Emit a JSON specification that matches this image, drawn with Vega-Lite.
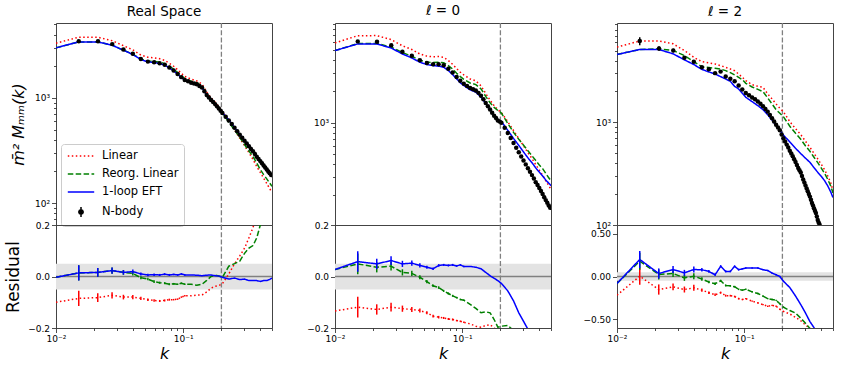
{
"$schema": "https://vega.github.io/schema/vega-lite/v6.json",
"autosize": {"type": "pad"},
"padding": {"left": 4, "top": 3, "right": 5, "bottom": 5},
"config": {
  "font": "DejaVu Sans",
  "view": {"stroke": "#444444", "strokeWidth": 1},
  "axis": {"domain": false, "grid": false, "tickColor": "#222222", "tickWidth": 0.8, "labelColor": "#000000", "labelFontSize": 9, "labelPadding": 2, "titleFontWeight": "normal", "titleColor": "#000000", "labelFlush": false, "labelOverlap": false},
  "title": {"fontSize": 13.5, "fontWeight": "normal", "color": "#000000", "offset": 2, "frame": "group"}
},
"datasets": {
"lines": [
{"p":1,"k":0.01,"L":3317,"R":2994,"E":2994,"rL":-0.1,"rR":-0.003,"rE":-0.003},
{"p":1,"k":0.0151,"L":3783,"R":3413,"E":3413,"rL":-0.085,"rR":0.014,"rE":0.014,"e":0.03},
{"p":1,"k":0.0213,"L":3778,"R":3413,"E":3413,"rL":-0.082,"rR":0.016,"rE":0.016,"e":0.017},
{"p":1,"k":0.0276,"L":3506,"R":3177,"E":3177,"rL":-0.073,"rR":0.023,"rE":0.023,"e":0.012},
{"p":1,"k":0.0339,"L":3143,"R":2846,"E":2846,"rL":-0.08,"rR":0.016,"rE":0.016,"e":0.009},
{"p":1,"k":0.0402,"L":2866,"R":2606,"E":2588,"rL":-0.08,"rR":0.012,"rE":0.019,"e":0.008},
{"p":1,"k":0.0465,"L":2558,"R":2353,"E":2318,"rL":-0.085,"rR":-0.005,"rE":0.01,"e":0.006},
{"p":1,"k":0.0528,"L":2435,"R":2238,"E":2203,"rL":-0.09,"rR":-0.01,"rE":0.006,"e":0.005},
{"p":1,"k":0.0591,"L":2411,"R":2232,"E":2172,"rL":-0.093,"rR":-0.02,"rE":0.007,"e":0.005},
{"p":1,"k":0.0654,"L":2360,"R":2189,"E":2123,"rL":-0.095,"rR":-0.024,"rE":0.006,"e":0.004},
{"p":1,"k":0.0716,"L":2278,"R":2121,"E":2048,"rL":-0.093,"rR":-0.026,"rE":0.009,"e":0.004},
{"p":1,"k":0.0779,"L":2136,"R":2004,"E":1932,"rL":-0.09,"rR":-0.03,"rE":0.006,"e":0.004},
{"p":1,"k":0.0842,"L":2003,"R":1876,"E":1809,"rL":-0.09,"rR":-0.028,"rE":0.008,"e":0.003},
{"p":1,"k":0.0905,"L":1854,"R":1743,"E":1681,"rL":-0.088,"rR":-0.03,"rE":0.006,"e":0.003},
{"p":1,"k":0.0968,"L":1715,"R":1620,"E":1562,"rL":-0.08,"rR":-0.026,"rE":0.01,"e":0.003},
{"p":1,"k":0.1031,"L":1602,"R":1528,"E":1473,"rL":-0.075,"rR":-0.03,"rE":0.006,"e":0.003},
{"p":1,"k":0.1156,"L":1511,"R":1441,"E":1390,"rL":-0.075,"rR":-0.03,"rE":0.006},
{"p":1,"k":0.1282,"L":1452,"R":1394,"E":1340,"rL":-0.072,"rR":-0.034,"rE":0.005},
{"p":1,"k":0.1408,"L":1356,"R":1297,"E":1254,"rL":-0.072,"rR":-0.03,"rE":0.003},
{"p":1,"k":0.1533,"L":1133,"R":1081,"E":1060,"rL":-0.06,"rR":-0.015,"rE":0.005},
{"p":1,"k":0.1659,"L":1001,"R":956,"E":950,"rL":-0.045,"rR":0.0,"rE":0.006},
{"p":1,"k":0.1785,"L":909,"R":870,"E":871,"rL":-0.038,"rR":0.005,"rE":0.003},
{"p":1,"k":0.191,"L":822,"R":791,"E":791,"rL":-0.035,"rR":0.002,"rE":0.002},
{"p":1,"k":0.2036,"L":741,"R":722,"E":722,"rL":-0.028,"rR":-0.003,"rE":-0.003},
{"p":1,"k":0.2287,"L":606,"R":588,"E":618,"rL":0.01,"rR":0.04,"rE":-0.01},
{"p":1,"k":0.2538,"L":496,"R":496,"E":524,"rL":0.05,"rR":0.05,"rE":-0.006},
{"p":1,"k":0.2789,"L":414,"R":422,"E":452,"rL":0.08,"rR":0.06,"rE":-0.012},
{"p":1,"k":0.3041,"L":353,"R":360,"E":396,"rL":0.11,"rR":0.09,"rE":-0.01},
{"p":1,"k":0.3292,"L":302,"R":313,"E":353,"rL":0.15,"rR":0.11,"rE":-0.016},
{"p":1,"k":0.3543,"L":261,"R":278,"E":316,"rL":0.19,"rR":0.12,"rE":-0.016},
{"p":1,"k":0.3794,"L":223,"R":240,"E":281,"rL":0.24,"rR":0.15,"rE":-0.016},
{"p":1,"k":0.4045,"L":196,"R":209,"E":256,"rL":0.28,"rR":0.2,"rE":-0.019},
{"p":1,"k":0.4297,"L":173,"R":187,"E":232,"rL":0.32,"rR":0.22,"rE":-0.016},
{"p":1,"k":0.4548,"L":154,"R":170,"E":212,"rL":0.36,"rR":0.23,"rE":-0.016},
{"p":1,"k":0.4799,"L":137,"R":155,"E":194,"rL":0.4,"rR":0.24,"rE":-0.011},
{"p":1,"k":0.5,"L":127,"R":145,"E":182,"rL":0.42,"rR":0.245,"rE":-0.006},
{"p":2,"k":0.01,"L":5889,"R":4966,"E":4966,"rL":-0.134,"rR":0.027,"rE":0.027},
{"p":2,"k":0.0151,"L":6910,"R":5804,"E":5754,"rL":-0.119,"rR":0.049,"rE":0.058,"e":0.04},
{"p":2,"k":0.0213,"L":6922,"R":5826,"E":5754,"rL":-0.128,"rR":0.036,"rE":0.049,"e":0.02},
{"p":2,"k":0.0276,"L":6342,"R":5372,"E":5261,"rL":-0.119,"rR":0.04,"rE":0.062,"e":0.017},
{"p":2,"k":0.0339,"L":5520,"R":4754,"E":4604,"rL":-0.125,"rR":0.016,"rE":0.049,"e":0.012},
{"p":2,"k":0.0402,"L":5084,"R":4380,"E":4214,"rL":-0.128,"rR":0.012,"rE":0.052,"e":0.01},
{"p":2,"k":0.0465,"L":4601,"R":4006,"E":3829,"rL":-0.132,"rR":-0.003,"rE":0.043,"e":0.008},
{"p":2,"k":0.0528,"L":4388,"R":3846,"E":3638,"rL":-0.141,"rR":-0.02,"rE":0.036,"e":0.006},
{"p":2,"k":0.0591,"L":4330,"R":3800,"E":3556,"rL":-0.154,"rR":-0.036,"rE":0.03,"e":0.005},
{"p":2,"k":0.0654,"L":4346,"R":3823,"E":3508,"rL":-0.158,"rR":-0.043,"rE":0.043,"e":0.005},
{"p":2,"k":0.0716,"L":4272,"R":3797,"E":3430,"rL":-0.161,"rR":-0.056,"rE":0.045,"e":0.004},
{"p":2,"k":0.0779,"L":3980,"R":3558,"E":3186,"rL":-0.165,"rR":-0.066,"rE":0.043,"e":0.004},
{"p":2,"k":0.0842,"L":3657,"R":3293,"E":2915,"rL":-0.167,"rR":-0.075,"rE":0.045,"e":0.004},
{"p":2,"k":0.0905,"L":3327,"R":3004,"E":2649,"rL":-0.171,"rR":-0.082,"rE":0.041,"e":0.003},
{"p":2,"k":0.0968,"L":3068,"R":2782,"E":2425,"rL":-0.174,"rR":-0.089,"rE":0.045,"e":0.003},
{"p":2,"k":0.1031,"L":2891,"R":2617,"E":2287,"rL":-0.178,"rR":-0.092,"rE":0.039,"e":0.003},
{"p":2,"k":0.1156,"L":2643,"R":2418,"E":2076,"rL":-0.184,"rR":-0.108,"rE":0.039},
{"p":2,"k":0.1282,"L":2532,"R":2332,"E":1972,"rL":-0.193,"rR":-0.124,"rE":0.036},
{"p":2,"k":0.1408,"L":2265,"R":2118,"E":1766,"rL":-0.197,"rR":-0.141,"rE":0.03},
{"p":2,"k":0.1533,"L":1911,"R":1794,"E":1524,"rL":-0.19,"rR":-0.137,"rE":0.016},
{"p":2,"k":0.1659,"L":1646,"R":1558,"E":1334,"rL":-0.187,"rR":-0.141,"rE":0.003},
{"p":2,"k":0.1785,"L":1461,"R":1403,"E":1177,"rL":-0.2,"rR":-0.167,"rE":-0.007},
{"p":2,"k":0.191,"L":1332,"R":1310,"E":1069,"rL":-0.21,"rR":-0.197,"rE":-0.016},
{"p":2,"k":0.2036,"L":1250,"R":1239,"E":1028,"rL":-0.215,"rR":-0.193,"rE":-0.027},
{"p":2,"k":0.2287,"L":1021,"R":983,"E":843,"rL":-0.22,"rR":-0.19,"rE":-0.056},
{"p":2,"k":0.2538,"L":838,"R":806,"E":704,"rL":-0.24,"rR":-0.21,"rE":-0.095},
{"p":2,"k":0.2789,"L":701,"R":692,"E":604,"rL":-0.26,"rR":-0.25,"rE":-0.141},
{"p":2,"k":0.3041,"L":599,"R":607,"E":522,"rL":-0.28,"rR":-0.29,"rE":-0.174},
{"p":2,"k":0.3292,"L":513,"R":535,"E":458,"rL":-0.29,"rR":-0.32,"rE":-0.205},
{"p":2,"k":0.3543,"L":452,"R":480,"E":411,"rL":-0.31,"rR":-0.35,"rE":-0.24},
{"p":2,"k":0.3794,"L":393,"R":431,"E":366,"rL":-0.32,"rR":-0.38,"rE":-0.27},
{"p":2,"k":0.4045,"L":349,"R":390,"E":334,"rL":-0.33,"rR":-0.4,"rE":-0.3},
{"p":2,"k":0.4297,"L":311,"R":360,"E":306,"rL":-0.34,"rR":-0.43,"rE":-0.33},
{"p":2,"k":0.4548,"L":275,"R":325,"E":280,"rL":-0.35,"rR":-0.45,"rE":-0.36},
{"p":2,"k":0.4799,"L":247,"R":294,"E":261,"rL":-0.355,"rR":-0.46,"rE":-0.39},
{"p":2,"k":0.5,"L":228,"R":275,"E":247,"rL":-0.36,"rR":-0.47,"rE":-0.41},
{"p":3,"k":0.01,"L":5408,"R":4581,"E":4581,"rL":-0.22,"rR":-0.082,"rE":-0.082},
{"p":3,"k":0.0151,"L":6200,"R":5129,"E":5129,"rL":0.004,"rR":0.18,"rE":0.2,"e":0.1},
{"p":3,"k":0.0213,"L":6200,"R":5207,"E":5129,"rL":-0.153,"rR":0.024,"rE":0.035,"e":0.06},
{"p":3,"k":0.0276,"L":5825,"R":5013,"E":4656,"rL":-0.122,"rR":0.035,"rE":0.082,"e":0.04},
{"p":3,"k":0.0339,"L":5013,"R":4477,"E":4065,"rL":-0.153,"rR":-0.016,"rE":0.043,"e":0.035},
{"p":3,"k":0.0402,"L":4300,"R":3900,"E":3661,"rL":-0.133,"rR":0.004,"rE":0.082,"e":0.035},
{"p":3,"k":0.0465,"L":3900,"R":3480,"E":3280,"rL":-0.16,"rR":-0.03,"rE":0.079,"e":0.02},
{"p":3,"k":0.0528,"L":3800,"R":3420,"E":3100,"rL":-0.19,"rR":-0.065,"rE":0.06,"e":0.015},
{"p":3,"k":0.0591,"L":3707,"R":3370,"E":2958,"rL":-0.215,"rR":-0.085,"rE":0.02,"e":0.015},
{"p":3,"k":0.0654,"L":3568,"R":3300,"E":2787,"rL":-0.19,"rR":-0.05,"rE":0.12,"e":0.012},
{"p":3,"k":0.0716,"L":3436,"R":3190,"E":2644,"rL":-0.225,"rR":-0.105,"rE":0.06,"e":0.012},
{"p":3,"k":0.0779,"L":3311,"R":3050,"E":2510,"rL":-0.225,"rR":-0.11,"rE":0.06,"e":0.01},
{"p":3,"k":0.0842,"L":3184,"R":2894,"E":2244,"rL":-0.235,"rR":-0.12,"rE":0.12,"e":0.01},
{"p":3,"k":0.0905,"L":2958,"R":2746,"E":2114,"rL":-0.26,"rR":-0.15,"rE":0.08,"e":0.01},
{"p":3,"k":0.0968,"L":2746,"R":2608,"E":1918,"rL":-0.27,"rR":-0.16,"rE":0.09,"e":0.008},
{"p":3,"k":0.1031,"L":2548,"R":2401,"E":1754,"rL":-0.26,"rR":-0.15,"rE":0.1,"e":0.008},
{"p":3,"k":0.1156,"L":2329,"R":2210,"E":1591,"rL":-0.29,"rR":-0.18,"rE":0.1,"e":0.008},
{"p":3,"k":0.1282,"L":2244,"R":2098,"E":1455,"rL":-0.31,"rR":-0.2,"rE":0.1,"e":0.008},
{"p":3,"k":0.1408,"L":2193,"R":1991,"E":1330,"rL":-0.33,"rR":-0.23,"rE":0.08,"e":0.008},
{"p":3,"k":0.1533,"L":1889,"R":1727,"E":1189,"rL":-0.35,"rR":-0.26,"rE":0.07,"e":0.008},
{"p":3,"k":0.1659,"L":1690,"R":1509,"E":1055,"rL":-0.34,"rR":-0.27,"rE":0.04,"e":0.008},
{"p":3,"k":0.1785,"L":1509,"R":1330,"E":929,"rL":-0.35,"rR":-0.28,"rE":0.02,"e":0.008},
{"p":3,"k":0.191,"L":1370,"R":1225,"E":836,"rL":-0.385,"rR":-0.32,"rE":0.0,"e":0.008},
{"p":3,"k":0.2036,"L":1271,"R":1136,"E":753,"rL":-0.41,"rR":-0.36,"rE":-0.055,"e":0.008},
{"p":3,"k":0.2287,"L":1016,"R":916,"E":644,"rL":-0.44,"rR":-0.4,"rE":-0.13},
{"p":3,"k":0.2538,"L":868,"R":782,"E":559,"rL":-0.48,"rR":-0.43,"rE":-0.23},
{"p":3,"k":0.2789,"L":759,"R":684,"E":496,"rL":-0.52,"rR":-0.49,"rE":-0.33},
{"p":3,"k":0.3041,"L":653,"R":589,"E":447,"rL":-0.57,"rR":-0.55,"rE":-0.43},
{"p":3,"k":0.3292,"L":571,"R":523,"E":408,"rL":-0.61,"rR":-0.61,"rE":-0.53},
{"p":3,"k":0.3543,"L":499,"R":457,"E":362,"rL":-0.66,"rR":-0.66,"rE":-0.6},
{"p":3,"k":0.3794,"L":440,"R":405,"E":326,"rL":-0.7,"rR":-0.72,"rE":-0.68},
{"p":3,"k":0.4045,"L":390,"R":358,"E":298,"rL":-0.76,"rR":-0.77,"rE":-0.74},
{"p":3,"k":0.4297,"L":345,"R":318,"E":270,"rL":-0.81,"rR":-0.82,"rE":-0.8},
{"p":3,"k":0.4548,"L":300,"R":278,"E":240,"rL":-0.85,"rR":-0.86,"rE":-0.85},
{"p":3,"k":0.4799,"L":258,"R":240,"E":210,"rL":-0.89,"rR":-0.9,"rE":-0.9},
{"p":3,"k":0.5,"L":215,"R":205,"E":185,"rL":-0.92,"rR":-0.93,"rE":-0.93}
],
"nbody": [
{"p":1,"k":0.0151,"N":3461},{"p":1,"k":0.0214,"N":3468},{"p":1,"k":0.0277,"N":3250},{"p":1,"k":0.0339,"N":2892},{"p":1,"k":0.0402,"N":2637},{"p":1,"k":0.0465,"N":2341},{"p":1,"k":0.0528,"N":2216},{"p":1,"k":0.0591,"N":2187},{"p":1,"k":0.0653,"N":2136},{"p":1,"k":0.0716,"N":2066},{"p":1,"k":0.0779,"N":1944},{"p":1,"k":0.0842,"N":1823},{"p":1,"k":0.0905,"N":1691},{"p":1,"k":0.0967,"N":1578},{"p":1,"k":0.103,"N":1482},{"p":1,"k":0.1093,"N":1439},{"p":1,"k":0.1156,"N":1398},{"p":1,"k":0.1219,"N":1372},{"p":1,"k":0.1281,"N":1347},{"p":1,"k":0.1344,"N":1300},{"p":1,"k":0.1407,"N":1258},{"p":1,"k":0.147,"N":1160},{"p":1,"k":0.1533,"N":1065},{"p":1,"k":0.1595,"N":1008},{"p":1,"k":0.1658,"N":956},{"p":1,"k":0.1721,"N":914},{"p":1,"k":0.1784,"N":874},{"p":1,"k":0.1847,"N":832},{"p":1,"k":0.1909,"N":793},{"p":1,"k":0.1972,"N":755},{"p":1,"k":0.2035,"N":720},{"p":1,"k":0.2161,"N":664},{"p":1,"k":0.2286,"N":612},{"p":1,"k":0.2412,"N":565},{"p":1,"k":0.2537,"N":521},{"p":1,"k":0.2663,"N":483},{"p":1,"k":0.2789,"N":447},{"p":1,"k":0.2914,"N":418},{"p":1,"k":0.304,"N":392},{"p":1,"k":0.3165,"N":369},{"p":1,"k":0.3291,"N":347},{"p":1,"k":0.3417,"N":328},{"p":1,"k":0.3542,"N":311},{"p":1,"k":0.3668,"N":293},{"p":1,"k":0.3793,"N":276},{"p":1,"k":0.3919,"N":263},{"p":1,"k":0.4045,"N":251},{"p":1,"k":0.417,"N":239},{"p":1,"k":0.4296,"N":228},{"p":1,"k":0.4421,"N":218},{"p":1,"k":0.4547,"N":209},{"p":1,"k":0.4673,"N":200},{"p":1,"k":0.4798,"N":192},{"p":1,"k":0.4924,"N":185},
{"p":2,"k":0.0151,"N":6088},{"p":2,"k":0.0214,"N":6036},{"p":2,"k":0.0277,"N":5587},{"p":2,"k":0.0339,"N":4830},{"p":2,"k":0.0402,"N":4433},{"p":2,"k":0.0465,"N":3994},{"p":2,"k":0.0528,"N":3769},{"p":2,"k":0.0591,"N":3663},{"p":2,"k":0.0653,"N":3659},{"p":2,"k":0.0716,"N":3584},{"p":2,"k":0.0779,"N":3323},{"p":2,"k":0.0842,"N":3046},{"p":2,"k":0.0905,"N":2758},{"p":2,"k":0.0967,"N":2534},{"p":2,"k":0.103,"N":2376},{"p":2,"k":0.1093,"N":2260},{"p":2,"k":0.1156,"N":2157},{"p":2,"k":0.1219,"N":2100},{"p":2,"k":0.1281,"N":2043},{"p":2,"k":0.1344,"N":1940},{"p":2,"k":0.1407,"N":1819},{"p":2,"k":0.147,"N":1680},{"p":2,"k":0.1533,"N":1548},{"p":2,"k":0.1595,"N":1440},{"p":2,"k":0.1658,"N":1338},{"p":2,"k":0.1721,"N":1250},{"p":2,"k":0.1784,"N":1169},{"p":2,"k":0.1847,"N":1110},{"p":2,"k":0.1909,"N":1052},{"p":2,"k":0.1972,"N":1024},{"p":2,"k":0.2035,"N":1000},{"p":2,"k":0.2161,"N":895},{"p":2,"k":0.2286,"N":796},{"p":2,"k":0.2412,"N":712},{"p":2,"k":0.2537,"N":637},{"p":2,"k":0.2663,"N":574},{"p":2,"k":0.2789,"N":519},{"p":2,"k":0.2914,"N":472},{"p":2,"k":0.304,"N":431},{"p":2,"k":0.3165,"N":396},{"p":2,"k":0.3291,"N":364},{"p":2,"k":0.3417,"N":337},{"p":2,"k":0.3542,"N":312},{"p":2,"k":0.3668,"N":289},{"p":2,"k":0.3793,"N":267},{"p":2,"k":0.3919,"N":250},{"p":2,"k":0.4045,"N":234},{"p":2,"k":0.417,"N":219},{"p":2,"k":0.4296,"N":205},{"p":2,"k":0.4421,"N":191},{"p":2,"k":0.4547,"N":179},{"p":2,"k":0.4673,"N":169},{"p":2,"k":0.4798,"N":159},{"p":2,"k":0.4924,"N":151},
{"p":3,"k":0.0151,"N":6194,"Ne":560},{"p":3,"k":0.0214,"N":5250,"Ne":260},{"p":3,"k":0.0277,"N":5012,"Ne":200},{"p":3,"k":0.0339,"N":4255,"Ne":150},{"p":3,"k":0.0402,"N":3900,"Ne":120},{"p":3,"k":0.0465,"N":3440},{"p":3,"k":0.0528,"N":3286},{"p":3,"k":0.0591,"N":3017},{"p":3,"k":0.0653,"N":3121},{"p":3,"k":0.0716,"N":2803},{"p":3,"k":0.0779,"N":2661},{"p":3,"k":0.0842,"N":2513},{"p":3,"k":0.0905,"N":2283},{"p":3,"k":0.0967,"N":2091},{"p":3,"k":0.103,"N":1929},{"p":3,"k":0.1093,"N":1840},{"p":3,"k":0.1156,"N":1750},{"p":3,"k":0.1219,"N":1680},{"p":3,"k":0.1281,"N":1600},{"p":3,"k":0.1344,"N":1520},{"p":3,"k":0.1407,"N":1436},{"p":3,"k":0.147,"N":1350},{"p":3,"k":0.1533,"N":1272},{"p":3,"k":0.1595,"N":1180},{"p":3,"k":0.1658,"N":1097},{"p":3,"k":0.1721,"N":1020},{"p":3,"k":0.1784,"N":948},{"p":3,"k":0.1847,"N":890},{"p":3,"k":0.1909,"N":836},{"p":3,"k":0.1972,"N":760},{"p":3,"k":0.2035,"N":700},{"p":3,"k":0.2098,"N":650},{"p":3,"k":0.2161,"N":607},{"p":3,"k":0.2223,"N":568},{"p":3,"k":0.2286,"N":530},{"p":3,"k":0.2349,"N":498},{"p":3,"k":0.2412,"N":467},{"p":3,"k":0.2475,"N":438},{"p":3,"k":0.2537,"N":411},{"p":3,"k":0.26,"N":385},{"p":3,"k":0.2663,"N":360},{"p":3,"k":0.2726,"N":342},{"p":3,"k":0.2789,"N":324},{"p":3,"k":0.2851,"N":300},{"p":3,"k":0.2914,"N":277},{"p":3,"k":0.2977,"N":259},{"p":3,"k":0.304,"N":242},{"p":3,"k":0.3103,"N":227},{"p":3,"k":0.3165,"N":213},{"p":3,"k":0.3228,"N":200},{"p":3,"k":0.3291,"N":189},{"p":3,"k":0.3354,"N":176},{"p":3,"k":0.3417,"N":164},{"p":3,"k":0.3479,"N":155},{"p":3,"k":0.3542,"N":146},{"p":3,"k":0.3605,"N":138},{"p":3,"k":0.3668,"N":131},{"p":3,"k":0.3731,"N":121},{"p":3,"k":0.3793,"N":112},{"p":3,"k":0.3856,"N":106},{"p":3,"k":0.3919,"N":101}
]
},
"spacing": 32,
"resolve": {"scale": {"color": "independent", "strokeDash": "independent"}},
"hconcat": [
{
 "spacing": 0, "bounds": "flush",
 "resolve": {"scale": {"color": "independent", "strokeDash": "independent"}},
 "vconcat": [
 {
  "width": 216, "height": 202,
  "title": {"text": "Real Space"},
  "layer": [
   {"data": {"values": [{}]}, "mark": {"type": "rule", "color": "#808080", "strokeWidth": 1.3, "strokeDash": [5, 2.2]},
    "encoding": {"x": {"datum": 0.2, "type": "quantitative", "scale": {"type": "log", "domain": [0.01, 0.5], "nice": false}, "axis": null}}},
   {"data": {"name": "lines"},
    "transform": [{"filter": "datum.p == 1"}, {"fold": ["L", "R", "E"], "as": ["m", "v"]}],
    "mark": {"type": "line", "strokeWidth": 1.5, "clip": true},
    "encoding": {
     "x": {"field": "k", "type": "quantitative", "scale": {"type": "log", "domain": [0.01, 0.5], "nice": false}, "axis": null},
     "y": {"field": "v", "type": "quantitative", "scale": {"type": "log", "domain": [62, 5160], "nice": false},
      "axis": {"values": [70,80,90,100,200,300,400,500,600,700,800,900,1000,2000,3000,4000,5000], "labelExpr": "datum.value == 100 ? '10²' : datum.value == 1000 ? '10³' : ''", "tickSize": {"condition": {"test": "datum.value == 100 || datum.value == 1000", "value": 4.5}, "value": 2.5}, "title": "m̄² Mₘₘ(k)", "titleFontSize": 16, "titleFontStyle": "italic", "titlePadding": 8}},
     "color": {"field": "m", "type": "nominal", "scale": {"domain": ["L", "R", "E", "N"], "range": ["#ff0000", "#008000", "#0000ff", "#000000"]},
      "legend": {"orient": "none", "legendX": 5, "legendY": 121, "title": null, "labelExpr": "datum.label == 'L' ? 'Linear' : datum.label == 'R' ? 'Reorg. Linear' : datum.label == 'E' ? '1-loop EFT' : 'N-body'", "symbolSize": 144, "symbolStrokeWidth": 1.5, "symbolOffset": 8, "labelFontSize": 11.5, "labelOffset": 14, "rowPadding": 5, "padding": 5, "fillColor": "#ffffff", "strokeColor": "#cccccc", "cornerRadius": 3,
       "encode": {"symbols": {"update": {"shape": {"signal": "datum.value === 'N' ? 'M0,-0.85L0,0.85M0.37,0L0.26,0.26L0,0.37L-0.26,0.26L-0.37,0L-0.26,-0.26L0,-0.37L0.26,-0.26Z' : 'M-2.2,0L2.2,0'"}, "fill": {"signal": "datum.value === 'N' ? '#000000' : 'transparent'"}}}}}},
     "strokeDash": {"field": "m", "type": "nominal", "scale": {"domain": ["L", "R", "E", "N"], "range": [[1.5, 2.5], [5.5, 2.4], [1, 0], [1, 0]]},
      "legend": {"orient": "none", "legendX": 5, "legendY": 121, "title": null, "labelExpr": "datum.label == 'L' ? 'Linear' : datum.label == 'R' ? 'Reorg. Linear' : datum.label == 'E' ? '1-loop EFT' : 'N-body'", "symbolSize": 144, "symbolStrokeWidth": 1.5, "symbolOffset": 8, "labelFontSize": 11.5, "labelOffset": 14, "rowPadding": 5, "padding": 5, "fillColor": "#ffffff", "strokeColor": "#cccccc", "cornerRadius": 3,
       "encode": {"symbols": {"update": {"shape": {"signal": "datum.value === 'N' ? 'M0,-0.85L0,0.85M0.37,0L0.26,0.26L0,0.37L-0.26,0.26L-0.37,0L-0.26,-0.26L0,-0.37L0.26,-0.26Z' : 'M-2.2,0L2.2,0'"}, "fill": {"signal": "datum.value === 'N' ? '#000000' : 'transparent'"}}}}}}
    }},
   {"data": {"name": "nbody"}, "transform": [{"filter": "datum.p == 1"}],
    "mark": {"type": "point", "filled": true, "size": 20, "color": "#000000", "opacity": 1, "clip": true},
    "encoding": {"x": {"field": "k", "type": "quantitative", "axis": null}, "y": {"field": "N", "type": "quantitative"}}}
  ]
 },
 {
  "width": 216, "height": 103,
  "layer": [
   {"data": {"values": [{}]}, "mark": {"type": "rect", "color": "#e3e3e3"},
    "encoding": {"x": {"datum": 0.01, "type": "quantitative"}, "x2": {"datum": 0.5}, "y": {"datum": -0.05, "type": "quantitative"}, "y2": {"datum": 0.05}}},
   {"data": {"values": [{}]}, "mark": {"type": "rule", "color": "#808080", "strokeWidth": 1.5},
    "encoding": {"y": {"datum": 0, "type": "quantitative"}}},
   {"data": {"values": [{}]}, "mark": {"type": "rule", "color": "#808080", "strokeWidth": 1.3, "strokeDash": [5, 2.2]},
    "encoding": {"x": {"datum": 0.2, "type": "quantitative"}}},
   {"data": {"name": "lines"},
    "transform": [{"filter": "datum.p == 1"}, {"fold": ["rL", "rR", "rE"], "as": ["m", "v"]}],
    "mark": {"type": "line", "strokeWidth": 1.5, "clip": true},
    "encoding": {
     "x": {"field": "k", "type": "quantitative", "scale": {"type": "log", "domain": [0.01, 0.5], "nice": false},
      "axis": {"values": [0.01,0.02,0.03,0.04,0.05,0.06,0.07,0.08,0.09,0.1,0.2,0.3,0.4,0.5], "labelExpr": "datum.value == 0.01 ? '10⁻²' : datum.value == 0.1 ? '10⁻¹' : ''", "tickSize": {"condition": {"test": "datum.value == 0.01 || datum.value == 0.1", "value": 4.5}, "value": 2.5}, "title": "k", "titleFontStyle": "italic", "titleFontSize": 16, "titlePadding": 2}},
     "y": {"field": "v", "type": "quantitative", "title": "Residual", "scale": {"domain": [-0.2, 0.2], "nice": false, "zero": false},
      "axis": {"values": [-0.2, -0.1, 0, 0.1, 0.2], "format": ".1f", "tickSize": 4.5, "title": "Residual", "titleFontSize": 17, "titlePadding": 5}},
     "color": {"field": "m", "type": "nominal", "scale": {"domain": ["rL", "rR", "rE"], "range": ["#ff0000", "#008000", "#0000ff"]}, "legend": null},
     "strokeDash": {"field": "m", "type": "nominal", "scale": {"domain": ["rL", "rR", "rE"], "range": [[1.5, 2.5], [5.5, 2.4], [1, 0]]}, "legend": null}
    }},
   {"data": {"name": "lines"},
    "transform": [{"filter": "datum.p == 1 && isValid(datum.e)"}, {"fold": ["rL", "rR", "rE"], "as": ["m", "v"]}],
    "mark": {"type": "errorbar", "thickness": 1.5},
    "encoding": {"x": {"field": "k", "type": "quantitative", "title": "k"}, "y": {"field": "v", "type": "quantitative", "title": "Residual"}, "yError": {"field": "e"},
     "color": {"field": "m", "type": "nominal", "legend": null}}}
  ]
 }
 ]
},
{
 "spacing": 29,
 "resolve": {"scale": {"color": "independent", "strokeDash": "independent"}},
 "hconcat": [
 {
 "spacing": 0, "bounds": "flush",
 "resolve": {"scale": {"color": "independent", "strokeDash": "independent"}},
 "vconcat": [
 {
  "width": 216, "height": 202,
  "title": {"text": "ℓ = 0"},
  "layer": [
   {"data": {"values": [{}]}, "mark": {"type": "rule", "color": "#808080", "strokeWidth": 1.3, "strokeDash": [5, 2.2]},
    "encoding": {"x": {"datum": 0.2, "type": "quantitative", "scale": {"type": "log", "domain": [0.01, 0.5], "nice": false}, "axis": null}}},
   {"data": {"name": "lines"},
    "transform": [{"filter": "datum.p == 2"}, {"fold": ["L", "R", "E"], "as": ["m", "v"]}],
    "mark": {"type": "line", "strokeWidth": 1.5, "clip": true},
    "encoding": {
     "x": {"field": "k", "type": "quantitative", "scale": {"type": "log", "domain": [0.01, 0.5], "nice": false}, "axis": null},
     "y": {"field": "v", "type": "quantitative", "scale": {"type": "log", "domain": [103, 9160], "nice": false},
      "axis": {"values": [200,300,400,500,600,700,800,900,1000,2000,3000,4000,5000,6000,7000,8000,9000], "labelExpr": "datum.value == 100 ? '10²' : datum.value == 1000 ? '10³' : ''", "tickSize": {"condition": {"test": "datum.value == 100 || datum.value == 1000", "value": 4.5}, "value": 2.5}, "title": null}},
     "color": {"field": "m", "type": "nominal", "scale": {"domain": ["L", "R", "E"], "range": ["#ff0000", "#008000", "#0000ff"]}, "legend": null},
     "strokeDash": {"field": "m", "type": "nominal", "scale": {"domain": ["L", "R", "E"], "range": [[1.5, 2.5], [5.5, 2.4], [1, 0]]}, "legend": null}
    }},
   {"data": {"name": "nbody"}, "transform": [{"filter": "datum.p == 2"}],
    "mark": {"type": "point", "filled": true, "size": 20, "color": "#000000", "opacity": 1, "clip": true},
    "encoding": {"x": {"field": "k", "type": "quantitative", "axis": null}, "y": {"field": "N", "type": "quantitative"}}}
  ]
 },
 {
  "width": 216, "height": 103,
  "layer": [
   {"data": {"values": [{}]}, "mark": {"type": "rect", "color": "#e3e3e3"},
    "encoding": {"x": {"datum": 0.01, "type": "quantitative"}, "x2": {"datum": 0.5}, "y": {"datum": -0.05, "type": "quantitative"}, "y2": {"datum": 0.05}}},
   {"data": {"values": [{}]}, "mark": {"type": "rule", "color": "#808080", "strokeWidth": 1.5},
    "encoding": {"y": {"datum": 0, "type": "quantitative"}}},
   {"data": {"values": [{}]}, "mark": {"type": "rule", "color": "#808080", "strokeWidth": 1.3, "strokeDash": [5, 2.2]},
    "encoding": {"x": {"datum": 0.2, "type": "quantitative"}}},
   {"data": {"name": "lines"},
    "transform": [{"filter": "datum.p == 2"}, {"fold": ["rL", "rR", "rE"], "as": ["m", "v"]}],
    "mark": {"type": "line", "strokeWidth": 1.5, "clip": true},
    "encoding": {
     "x": {"field": "k", "type": "quantitative", "scale": {"type": "log", "domain": [0.01, 0.5], "nice": false},
      "axis": {"values": [0.01,0.02,0.03,0.04,0.05,0.06,0.07,0.08,0.09,0.1,0.2,0.3,0.4,0.5], "labelExpr": "datum.value == 0.01 ? '10⁻²' : datum.value == 0.1 ? '10⁻¹' : ''", "tickSize": {"condition": {"test": "datum.value == 0.01 || datum.value == 0.1", "value": 4.5}, "value": 2.5}, "title": "k", "titleFontStyle": "italic", "titleFontSize": 16, "titlePadding": 2}},
     "y": {"field": "v", "type": "quantitative", "scale": {"domain": [-0.2, 0.2], "nice": false, "zero": false},
      "axis": {"values": [-0.2, -0.1, 0, 0.1, 0.2], "format": ".1f", "tickSize": 4.5, "title": null}},
     "color": {"field": "m", "type": "nominal", "scale": {"domain": ["rL", "rR", "rE"], "range": ["#ff0000", "#008000", "#0000ff"]}, "legend": null},
     "strokeDash": {"field": "m", "type": "nominal", "scale": {"domain": ["rL", "rR", "rE"], "range": [[1.5, 2.5], [5.5, 2.4], [1, 0]]}, "legend": null}
    }},
   {"data": {"name": "lines"},
    "transform": [{"filter": "datum.p == 2 && isValid(datum.e)"}, {"fold": ["rL", "rR", "rE"], "as": ["m", "v"]}],
    "mark": {"type": "errorbar", "thickness": 1.5},
    "encoding": {"x": {"field": "k", "type": "quantitative"}, "y": {"field": "v", "type": "quantitative"}, "yError": {"field": "e"},
     "color": {"field": "m", "type": "nominal", "legend": null}}}
  ]
 }
 ]
 },
 {
 "spacing": 0, "bounds": "flush",
 "resolve": {"scale": {"color": "independent", "strokeDash": "independent"}},
 "vconcat": [
 {
  "width": 216, "height": 202,
  "title": {"text": "ℓ = 2"},
  "layer": [
   {"data": {"values": [{}]}, "mark": {"type": "rule", "color": "#808080", "strokeWidth": 1.3, "strokeDash": [5, 2.2]},
    "encoding": {"x": {"datum": 0.2, "type": "quantitative", "scale": {"type": "log", "domain": [0.01, 0.5], "nice": false}, "axis": null}}},
   {"data": {"name": "lines"},
    "transform": [{"filter": "datum.p == 3"}, {"fold": ["L", "R", "E"], "as": ["m", "v"]}],
    "mark": {"type": "line", "strokeWidth": 1.5, "clip": true},
    "encoding": {
     "x": {"field": "k", "type": "quantitative", "scale": {"type": "log", "domain": [0.01, 0.5], "nice": false}, "axis": null},
     "y": {"field": "v", "type": "quantitative", "scale": {"type": "log", "domain": [100, 9290], "nice": false},
      "axis": {"values": [100,200,300,400,500,600,700,800,900,1000,2000,3000,4000,5000,6000,7000,8000,9000], "labelExpr": "datum.value == 100 ? '10²' : datum.value == 1000 ? '10³' : ''", "tickSize": {"condition": {"test": "datum.value == 100 || datum.value == 1000", "value": 4.5}, "value": 2.5}, "title": null}},
     "color": {"field": "m", "type": "nominal", "scale": {"domain": ["L", "R", "E"], "range": ["#ff0000", "#008000", "#0000ff"]}, "legend": null},
     "strokeDash": {"field": "m", "type": "nominal", "scale": {"domain": ["L", "R", "E"], "range": [[1.5, 2.5], [5.5, 2.4], [1, 0]]}, "legend": null}
    }},
   {"data": {"name": "nbody"}, "transform": [{"filter": "datum.p == 3 && isValid(datum.Ne)"}],
    "mark": {"type": "errorbar", "thickness": 1.5, "color": "#000000"},
    "encoding": {"x": {"field": "k", "type": "quantitative", "axis": null}, "y": {"field": "N", "type": "quantitative"}, "yError": {"field": "Ne"}}},
   {"data": {"name": "nbody"}, "transform": [{"filter": "datum.p == 3"}],
    "mark": {"type": "point", "filled": true, "size": 20, "color": "#000000", "opacity": 1, "clip": true},
    "encoding": {"x": {"field": "k", "type": "quantitative", "axis": null}, "y": {"field": "N", "type": "quantitative"}}}
  ]
 },
 {
  "width": 216, "height": 103,
  "layer": [
   {"data": {"values": [{}]}, "mark": {"type": "rect", "color": "#e3e3e3"},
    "encoding": {"x": {"datum": 0.01, "type": "quantitative"}, "x2": {"datum": 0.5}, "y": {"datum": -0.05, "type": "quantitative"}, "y2": {"datum": 0.05}}},
   {"data": {"values": [{}]}, "mark": {"type": "rule", "color": "#808080", "strokeWidth": 1.5},
    "encoding": {"y": {"datum": 0, "type": "quantitative"}}},
   {"data": {"values": [{}]}, "mark": {"type": "rule", "color": "#808080", "strokeWidth": 1.3, "strokeDash": [5, 2.2]},
    "encoding": {"x": {"datum": 0.2, "type": "quantitative"}}},
   {"data": {"name": "lines"},
    "transform": [{"filter": "datum.p == 3"}, {"fold": ["rL", "rR", "rE"], "as": ["m", "v"]}],
    "mark": {"type": "line", "strokeWidth": 1.5, "clip": true},
    "encoding": {
     "x": {"field": "k", "type": "quantitative", "scale": {"type": "log", "domain": [0.01, 0.5], "nice": false},
      "axis": {"values": [0.01,0.02,0.03,0.04,0.05,0.06,0.07,0.08,0.09,0.1,0.2,0.3,0.4,0.5], "labelExpr": "datum.value == 0.01 ? '10⁻²' : datum.value == 0.1 ? '10⁻¹' : ''", "tickSize": {"condition": {"test": "datum.value == 0.01 || datum.value == 0.1", "value": 4.5}, "value": 2.5}, "title": "k", "titleFontStyle": "italic", "titleFontSize": 16, "titlePadding": 2}},
     "y": {"field": "v", "type": "quantitative", "scale": {"domain": [-0.605, 0.605], "nice": false, "zero": false},
      "axis": {"values": [-0.5, -0.25, 0, 0.25, 0.5], "format": ".2f", "tickSize": 4.5, "title": null}},
     "color": {"field": "m", "type": "nominal", "scale": {"domain": ["rL", "rR", "rE"], "range": ["#ff0000", "#008000", "#0000ff"]}, "legend": null},
     "strokeDash": {"field": "m", "type": "nominal", "scale": {"domain": ["rL", "rR", "rE"], "range": [[1.5, 2.5], [5.5, 2.4], [1, 0]]}, "legend": null}
    }},
   {"data": {"name": "lines"},
    "transform": [{"filter": "datum.p == 3 && isValid(datum.e)"}, {"fold": ["rL", "rR", "rE"], "as": ["m", "v"]}],
    "mark": {"type": "errorbar", "thickness": 1.5},
    "encoding": {"x": {"field": "k", "type": "quantitative"}, "y": {"field": "v", "type": "quantitative"}, "yError": {"field": "e"},
     "color": {"field": "m", "type": "nominal", "legend": null}}}
  ]
 }
 ]
 }
 ]
}
]
}
